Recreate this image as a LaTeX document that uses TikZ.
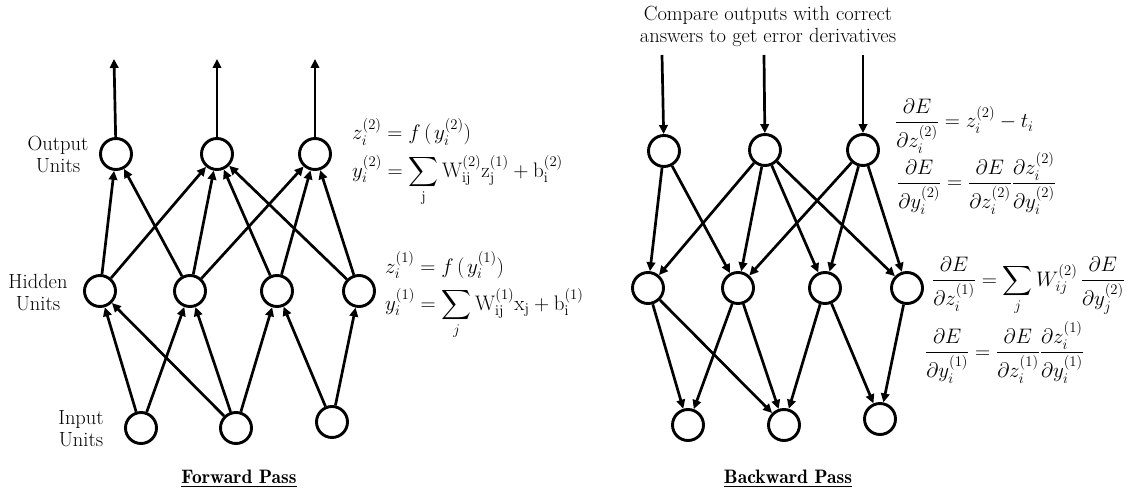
\documentclass[tikz,border=0pt]{standalone}
\usepackage{fix-cm}
\usepackage{amsmath}
\usetikzlibrary{arrows.meta}

\tikzset{
  unit/.style={circle, draw, line width=2.9pt, minimum size=31pt, inner sep=0pt},
  link/.style={line width=2.7pt, -{Triangle[length=9pt,width=8.5pt]}},
  caption/.style={font=\fontsize{20.5}{22}\selectfont, align=center, inner sep=0pt},
  title/.style={font=\fontsize{19.5}{22}\fontseries{b}\selectfont, inner sep=0pt, anchor=base},
  formula/.style={font=\fontsize{21}{25}\selectfont, inner sep=0pt, anchor=base west},
}

\begin{document}
\begin{tikzpicture}[x=1pt, y=-1pt]
\useasboundingbox (0,0) rectangle (1130,492);

% ---------------- Forward pass ----------------
\node[unit] (o1) at (116,154) {};
\node[unit] (o2) at (217,154) {};
\node[unit] (o3) at (315,154) {};
\node[unit] (h1) at (100,291) {};
\node[unit] (h2) at (190,291) {};
\node[unit] (h3) at (277,291) {};
\node[unit] (h4) at (359,291) {};
\node[unit] (i1) at (141,428) {};
\node[unit] (i2) at (236,428) {};
\node[unit] (i3) at (332,422) {};

\coordinate (t1) at (114,59);
\coordinate (t2) at (217,59);
\coordinate (t3) at (315,59);

\foreach \o/\t in {o1/t1, o2/t2, o3/t3}
  \draw[link] (\o) -- (\t);
\foreach \a/\b in {h1/o1, h2/o1, h1/o2, h2/o2, h3/o2, h4/o2, h2/o3, h3/o3, h4/o3,
                   i1/h1, i2/h1, i1/h2, i2/h2, i2/h3, i3/h3, i3/h4}
  \draw[link] (\a) -- (\b);

\node[caption] (lo) at (58,154) {Output\\Units};
\node[caption] (lh) at (38,293) {Hidden\\Units};
\node[caption] (li) at (81,429) {Input\\Units};

\node[formula] (f1) at (352,140) {$z_i^{(2)} = f\,(\mkern2mu y_i^{(2)})$};
\node[formula] (f2) at (352,177) {$\displaystyle y_i^{(2)} = \sum_{\mathrm{j}} \mathrm{W}_{\mathrm{ij}}^{(2)}\mathrm{z}_{\mathrm{j}}^{(1)} + \mathrm{b}_{\mathrm{i}}^{(2)}$};
\node[formula] (f3) at (385,273) {$z_i^{(1)} = f\,(\mkern2mu y_i^{(1)})$};
\node[formula] (f4) at (385,310) {$\displaystyle y_i^{(1)} = \sum_{j} \mathrm{W}_{\mathrm{ij}}^{(1)}\mathrm{x}_{\mathrm{j}} + \mathrm{b}_{\mathrm{i}}^{(1)}$};

\node[title] (fp) at (239,483) {\underline{Forward Pass}};

% ---------------- Backward pass ----------------
\node[unit] (bo1) at (664,151) {};
\node[unit] (bo2) at (765,150) {};
\node[unit] (bo3) at (863,150) {};
\node[unit] (bh1) at (648,288) {};
\node[unit] (bh2) at (738,288) {};
\node[unit] (bh3) at (825,288) {};
\node[unit] (bh4) at (907,288) {};
\node[unit] (bi1) at (688,425) {};
\node[unit] (bi2) at (784,425) {};
\node[unit] (bi3) at (880,419) {};

\coordinate (s1) at (662,55);
\coordinate (s2) at (764,55);
\coordinate (s3) at (863,55);

\foreach \s/\o in {s1/bo1, s2/bo2, s3/bo3}
  \draw[link] (\s) -- (\o);
\foreach \a/\b in {bo1/bh1, bo2/bh1, bo1/bh2, bo2/bh2, bo3/bh2, bo2/bh3, bo3/bh3, bo2/bh4, bo3/bh4,
                   bh1/bi1, bh1/bi2, bh2/bi1, bh2/bi2, bh3/bi2, bh3/bi3, bh4/bi3}
  \draw[link] (\a) -- (\b);

\node[caption] (cmp) at (768,26) {Compare outputs with correct\\answers to get error derivatives};

\node[formula] (g1) at (895,128) {$\displaystyle \frac{\partial E}{\partial z_i^{(2)}} = z_i^{(2)} - t_i$};
\node[formula] (g2) at (897,189) {$\displaystyle \frac{\partial E}{\partial y_i^{(2)}} = \frac{\partial E}{\partial z_i^{(2)}}\frac{\partial z_i^{(2)}}{\partial y_i^{(2)}}$};
\node[formula] (g3) at (932,286) {$\displaystyle \frac{\partial E}{\partial z_i^{(1)}} = \sum_j W_{ij}^{(2)}\,\frac{\partial E}{\partial y_j^{(2)}}$};
\node[formula] (g4) at (925,358) {$\displaystyle \frac{\partial E}{\partial y_i^{(1)}} = \frac{\partial E}{\partial z_i^{(1)}}\frac{\partial z_i^{(1)}}{\partial y_i^{(1)}}$};

\node[title] (bp) at (788,483) {\underline{Backward Pass}};
\end{tikzpicture}
\end{document}
